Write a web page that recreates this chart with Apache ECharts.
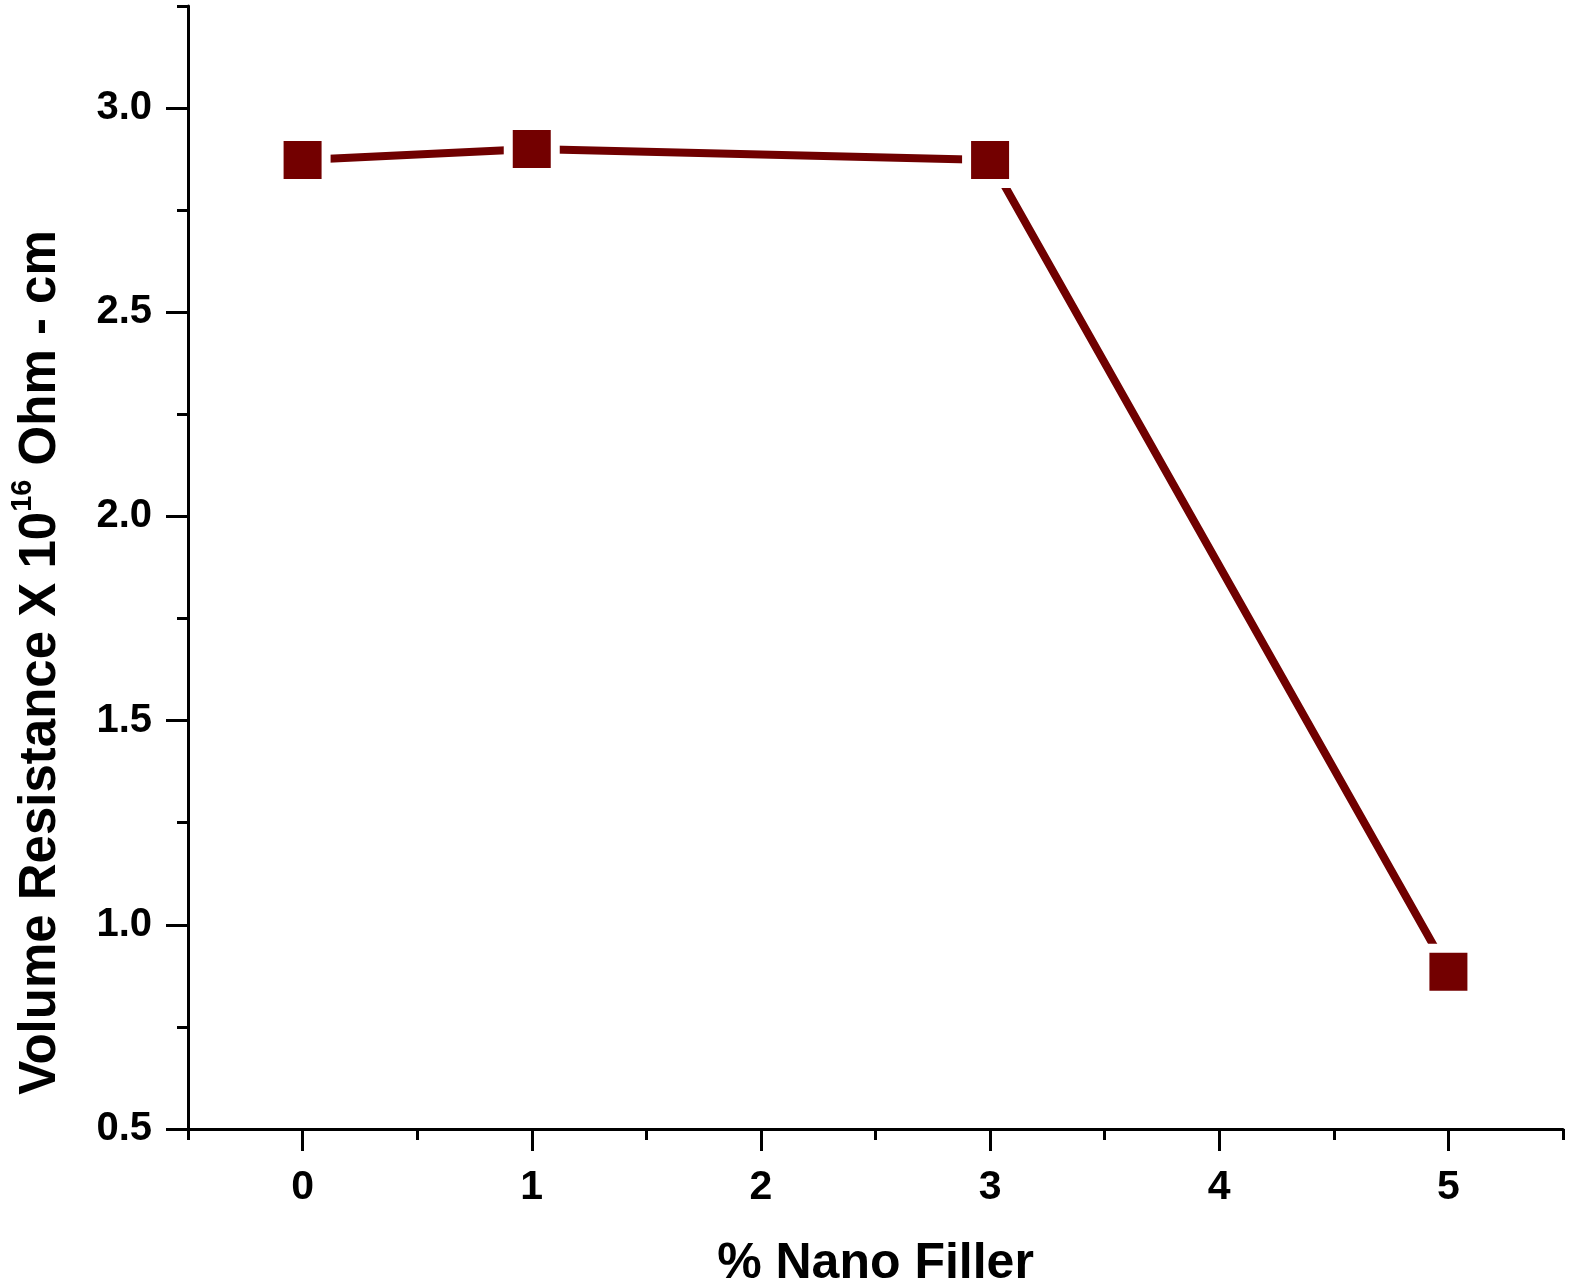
<!DOCTYPE html>
<html>
<head>
<meta charset="utf-8">
<script src="https://cdn.jsdelivr.net/npm/echarts@6/dist/echarts.min.js"></script>
<style>
html,body{margin:0;padding:0;background:#fff;}
#chart{width:1575px;height:1287px;}
</style>
</head>
<body>
<div id="chart"></div>
<script>
// Data
const xValues = [0, 1, 3, 5];
const yValues = [2.873, 2.90, 2.873, 0.885];
const xMajorTicks = [0, 1, 2, 3, 4, 5];
const yMajorTicks = [0.5, 1.0, 1.5, 2.0, 2.5, 3.0];
const xTitle = '% Nano Filler';
const yTitleParts = ['Volume Resistance X 10', '16', ' Ohm - cm'];

const FONT = '"Liberation Sans", Arial, sans-serif';
const chart = echarts.init(document.getElementById('chart'));
const axisLineStyle = {color: '#000', width: 3};

chart.setOption({
  backgroundColor: '#fff',
  animation: false,
  grid: {left: 188, right: 12, top: 6, bottom: 158, outerBoundsMode: 'none', containLabel: false},
  xAxis: [
    {
      type: 'value', min: -0.5, max: 5.5, position: 'bottom',
      axisLine: {show: true, onZero: false, lineStyle: axisLineStyle},
      axisTick: {show: true, customValues: xMajorTicks, length: 22, lineStyle: {color: '#000', width: 3}},
      axisLabel: {customValues: xMajorTicks, margin: 38, fontFamily: FONT, fontWeight: 'bold', fontSize: 41, color: '#000'},
      splitLine: {show: false},
      name: xTitle, nameLocation: 'middle', nameGap: 110,
      nameTextStyle: {fontFamily: FONT, fontWeight: 'bold', fontSize: 50, color: '#000'}
    },
    {
      type: 'value', min: -0.5, max: 5.5, interval: 0.5, position: 'bottom',
      axisLine: {show: false, onZero: false},
      axisTick: {show: true, length: 11, lineStyle: {color: '#000', width: 3}},
      axisLabel: {show: false},
      splitLine: {show: false}
    }
  ],
  yAxis: [
    {
      type: 'value', min: 0.5, max: 3.25, position: 'left',
      axisLine: {show: true, onZero: false, lineStyle: axisLineStyle},
      axisTick: {show: true, customValues: yMajorTicks, length: 22, lineStyle: {color: '#000', width: 3}},
      axisLabel: {customValues: yMajorTicks, margin: 36, fontFamily: FONT, fontWeight: 'bold', fontSize: 40, color: '#000',
        formatter: v => v.toFixed(1)},
      splitLine: {show: false},
      name: '{m|' + yTitleParts[0] + '}{s|' + yTitleParts[1] + '}{m|' + yTitleParts[2] + '}',
      nameLocation: 'middle', nameGap: 122, nameRotate: 90,
      nameTextStyle: {
        fontFamily: FONT, fontWeight: 'bold', fontSize: 51, color: '#000',
        padding: [0, 190, 0, 0],
        rich: {
          m: {fontFamily: FONT, fontWeight: 'bold', fontSize: 51, color: '#000', lineHeight: 58, verticalAlign: 'bottom'},
          s: {fontFamily: FONT, fontWeight: 'bold', fontSize: 29, color: '#000', lineHeight: 34, verticalAlign: 'top'}
        }
      }
    },
    {
      type: 'value', min: 0.5, max: 3.25, interval: 0.25, position: 'left',
      axisLine: {show: false, onZero: false},
      axisTick: {show: true, length: 11, lineStyle: {color: '#000', width: 3}},
      axisLabel: {show: false},
      splitLine: {show: false}
    }
  ],
  series: [{
    type: 'line',
    xAxisIndex: 0, yAxisIndex: 0,
    data: xValues.map((x, i) => [x, yValues[i]]),
    symbol: 'rect',
    symbolSize: 47,
    lineStyle: {color: '#700000', width: 8},
    itemStyle: {color: '#730000', borderColor: '#ffffff', borderWidth: 9},
    emphasis: {disabled: true}
  }]
});
</script>
</body>
</html>
